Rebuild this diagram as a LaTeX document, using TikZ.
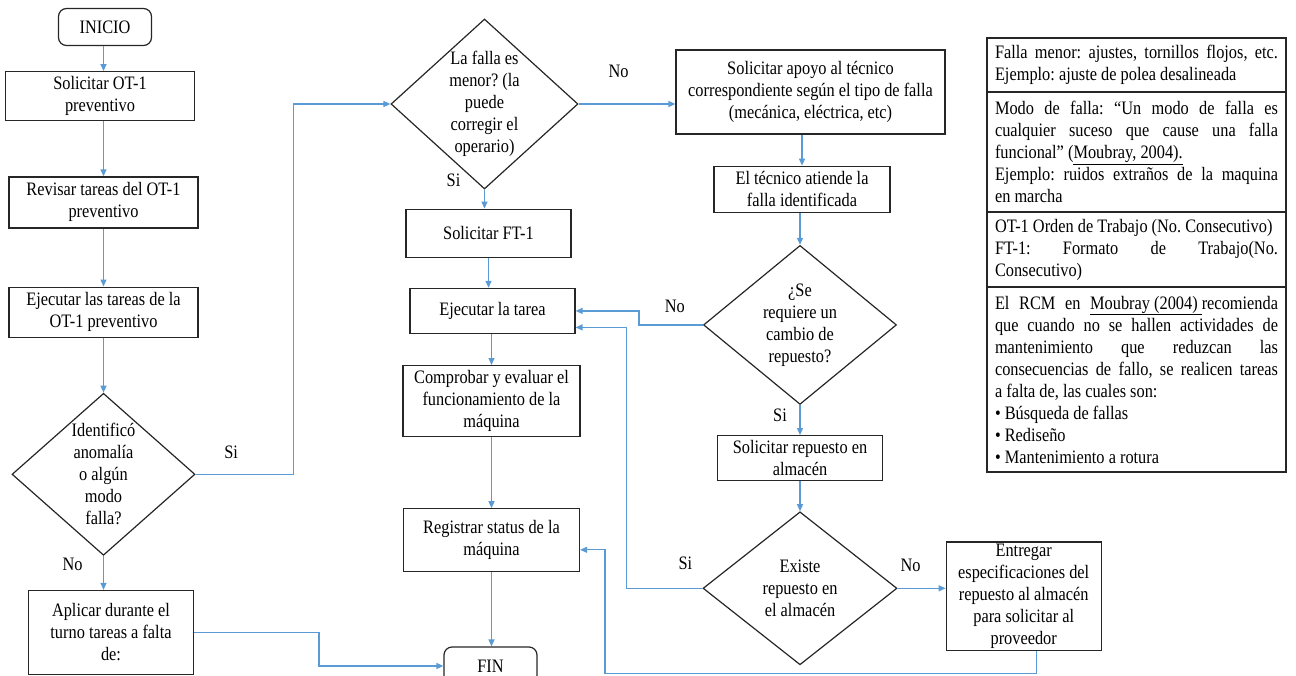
\documentclass[tikz,border=0pt]{standalone}
\usepackage{fontspec}
\setmainfont{Liberation Serif}[FakeStretch=0.86]
\usepackage{tikz}
\usetikzlibrary{arrows.meta,positioning,shapes.geometric,calc}
\setlength{\parindent}{0pt}
\hyphenpenalty=10000
\frenchspacing
\definecolor{linkblue}{RGB}{91,155,213}
\definecolor{boxline}{RGB}{38,38,38}

\begin{document}
\begin{tikzpicture}[
    x=1pt, y=-1pt,
    font=\fontsize{19}{22}\selectfont,
    process/.style={rectangle, draw=boxline, line width=1.2pt, align=center, inner sep=2pt},
    terminal/.style={process, rounded corners=8pt, minimum width=93pt, minimum height=37pt},
    decision/.style={diamond, draw=boxline, line width=1.2pt, inner sep=0pt},
    dtext/.style={align=center, inner sep=0pt},
    arrow/.style={-{Triangle[length=7pt, width=6pt]}, draw=linkblue, line width=1.3pt},
    lbl/.style={inner sep=1pt},
    info/.style={rectangle, draw=boxline, line width=1.2pt, text width=283pt, inner xsep=8pt, inner ysep=2pt, outer sep=0pt, align=justify, minimum height=#1}
]
\useasboundingbox (0,0) rectangle (1296,675);

% Left column
\node[terminal] (ini) at (105,27) {INICIO};
\node[process, minimum width=189pt, minimum height=49pt, below=25pt of ini, xshift=-5pt] (sot) {Solicitar OT-1\\preventivo};
\node[process, minimum width=189pt, minimum height=51pt, below=55pt of sot, xshift=3.5pt] (rev) {Revisar tareas del OT-1\\preventivo};
\node[process, minimum width=189pt, minimum height=50pt, below=58pt of rev] (ejot) {Ejecutar las tareas de la\\OT-1 preventivo};
\node[decision, minimum width=183pt, minimum height=162pt, below=55pt of ejot,
      label={[dtext]center:{Identificó\\anomalía\\o algún\\modo\\falla?}}] (anom) {};
\node[process, minimum width=165pt, minimum height=84pt, below=34pt of anom, xshift=7.5pt] (apl) {Aplicar durante el\\turno tareas a falta\\de:};

% Middle column
\node[decision, minimum width=187pt, minimum height=170pt,
      label={[dtext]center:{La falla es\\menor? (la\\puede\\corregir el\\operario)}}] (menor) at (484.5,104) {};
\node[process, minimum width=165pt, minimum height=48pt, below=19pt of menor, xshift=4pt] (sft) {Solicitar FT-1};
\node[process, minimum width=165pt, minimum height=45pt, below=30pt of sft, xshift=4pt] (ejt) {Ejecutar la tarea};
\node[process, minimum width=177pt, minimum height=71pt, below=31pt of ejt, xshift=-1pt] (comp) {Comprobar y evaluar el\\funcionamiento de la\\máquina};
\node[process, minimum width=176pt, minimum height=63pt, below=71pt of comp] (reg) {Registrar status de la\\máquina};
\node[terminal, minimum height=38pt, below=74pt of reg, xshift=-1pt] (fin) {FIN};

% Right column
\node[process, minimum width=269pt, minimum height=84pt] (apoyo) at (810.5,92) {Solicitar apoyo al técnico\\correspondiente según el tipo de falla\\(mecánica, eléctrica, etc)};
\node[process, minimum width=176pt, minimum height=46pt, below=31pt of apoyo, xshift=-8.5pt] (tec) {El técnico atiende la\\falla identificada};
\node[decision, minimum width=193pt, minimum height=159pt, below=32pt of tec, xshift=-2pt,
      label={[dtext]center:{¿Se\\requiere un\\cambio de\\repuesto?}}] (camb) {};
\node[process, minimum width=165pt, minimum height=45pt, below=30pt of camb] (srep) {Solicitar repuesto en\\almacén};
\node[decision, minimum width=194pt, minimum height=153pt, below=30pt of srep,
      label={[dtext]center:{Existe\\repuesto en\\el almacén}}] (exis) {};
\node[process, minimum width=155pt, minimum height=108pt, right=48pt of exis, yshift=-8pt] (entr) {Entregar\\especificaciones del\\repuesto al almacén\\para solicitar al\\proveedor};

% Notes table
\node[info=54pt] (nota1) at (1136.5,65) {Falla menor: ajustes, tornillos flojos, etc.\linebreak Ejemplo: ajuste de polea desalineada};
\node[info=120pt, below=0pt of nota1] (nota2) {Modo de falla: “Un modo de falla es\linebreak cualquier suceso que cause una falla\linebreak funcional” (\underline{Moubray, 2004).}\par Ejemplo: ruidos extraños de la maquina\linebreak en marcha};
\node[info=75pt, below=0pt of nota2] (nota3) {OT-1 Orden de Trabajo (No. Consecutivo)\par FT-1: Formato de Trabajo(No.\linebreak Consecutivo)};
\node[info=185pt, below=0pt of nota3] (nota4) {El RCM en \underline{Moubray (2004) }recomienda\linebreak que cuando no se hallen actividades de\linebreak mantenimiento que reduzcan las\linebreak consecuencias de fallo, se realicen tareas\linebreak a falta de, las cuales son:\par • Búsqueda de fallas\par • Rediseño\par • Mantenimiento a rotura};

% Arrows
\draw[arrow] (ini.south -| anom.north) -- (sot.north -| anom.north);
\draw[arrow] (sot.south -| anom.north) -- (rev.north -| anom.north);
\draw[arrow] (rev.south -| anom.north) -- (ejot.north -| anom.north);
\draw[arrow] (ejot.south -| anom.north) -- (anom.north);
\draw[arrow] (anom.south) -- (anom.south |- apl.north);
\draw[arrow] (anom.east) -- ++(98,0) |- (menor.west);
\draw[arrow] (apl.east) -- ++(125,0) |- (fin.west);
\draw[arrow] (menor.east) -- (menor.east -| apoyo.west);
\draw[arrow] (menor.south) -- (menor.south |- sft.north);
\draw[arrow] (sft.south) -- (sft.south |- ejt.north);
\draw[arrow] (ejt.south -| comp.north) -- (comp.north);
\draw[arrow] (comp) -- (reg);
\draw[arrow] (reg.south) -- (reg.south |- fin.north);
\draw[arrow] (tec.north |- apoyo.south) -- (tec.north);
\draw[arrow] (tec.south -| camb.north) -- (camb.north);
\draw[arrow] (camb.west) -- ++(-64,0) |- (ejt.east);
\draw[arrow] (camb.south) -- (camb.south |- srep.north);
\draw[arrow] (srep.south -| exis.north) -- (exis.north);
\draw[arrow] (exis.west) -- ++(-76,0) |- ([yshift=-16.5pt]ejt.east);
\draw[arrow] (exis.east) -- (exis.east -| entr.west);
\coordinate (regin) at ([yshift=-9.5pt]reg.east);
\draw[arrow] ([xshift=12.5pt]entr.south) -- ++(0,22) -| ([xshift=25pt]regin) -- (regin);

% Labels
\node[lbl] (siAnom) at ([xshift=35.5pt, yshift=22pt]anom.east) {Si};
\node[lbl] (noAnom) at ([xshift=-31pt, yshift=-8pt]anom.south) {No};
\node[lbl] (noMenor) at ([xshift=40pt, yshift=33pt]menor.east) {No};
\node[lbl] (siMenor) at ([xshift=-31pt, yshift=9pt]menor.south) {Si};
\node[lbl] (noCamb) at ([xshift=-28pt, yshift=19pt]camb.west) {No};
\node[lbl] (siCamb) at ([xshift=-20pt, yshift=-10pt]camb.south) {Si};
\node[lbl] (siExis) at ([xshift=-17pt, yshift=25pt]exis.west) {Si};
\node[lbl] (noExis) at ([xshift=13pt, yshift=23pt]exis.east) {No};

\end{tikzpicture}
\end{document}
